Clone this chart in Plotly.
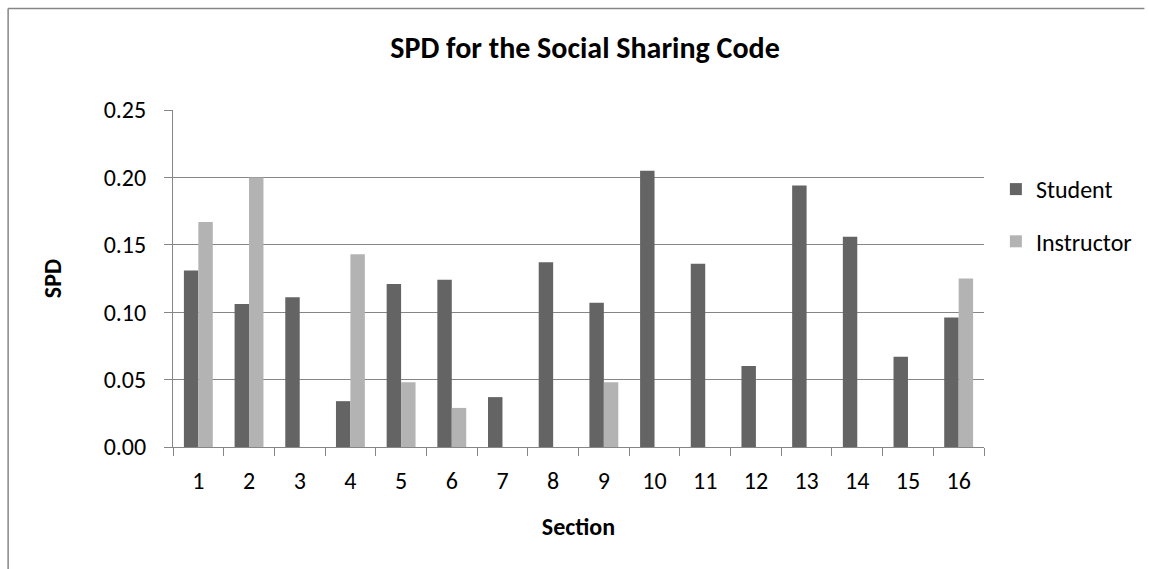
import plotly.graph_objects as go

sections = [str(i) for i in range(1, 17)]
student = [0.131, 0.106, 0.111, 0.034, 0.121, 0.124, 0.037, 0.137,
           0.107, 0.205, 0.136, 0.060, 0.194, 0.156, 0.067, 0.096]
instructor = [0.167, 0.200, None, 0.143, 0.048, 0.029, None, None,
              0.048, None, None, None, None, None, None, 0.125]

W, H = 1149, 569
L, R, T, B = 173, 992, 110, 447
FONT = "Carlito, Calibri, Lato, sans-serif"
GRID = "#868686"
FS = 24

def px(x):
    return (x - L) / (R - L)

def py(y):
    return (B - y) / (B - T)

fig = go.Figure()
fig.add_trace(go.Bar(x=sections, y=student, name="Student",
                     marker=dict(color="#646464", line=dict(width=0)),
                     legendgroup="s"))
fig.add_trace(go.Bar(x=sections, y=instructor, name="Instructor",
                     marker=dict(color="#b3b3b3", line=dict(width=0)),
                     legendgroup="i"))

border = dict(color=GRID, width=1.5)
fig.update_layout(
    width=W, height=H,
    margin=dict(l=L, r=W - R, t=T, b=H - B, pad=0),
    paper_bgcolor="white", plot_bgcolor="white",
    barmode="group", bargap=0.43, bargroupgap=0,
    font=dict(family=FONT, size=FS, color="black"),
    title=dict(text="<b>SPD for the Social Sharing Code</b>",
               font=dict(family=FONT, size=30, color="black"),
               x=px(590), xanchor="center", y=1 - 47 / H, yanchor="middle"),
    legend=dict(x=px(1004), xanchor="left", y=py(167), yanchor="top",
                font=dict(family=FONT, size=FS), tracegroupgap=18,
                itemwidth=30, bgcolor="rgba(0,0,0,0)"),
    xaxis=dict(type="category", range=[-0.5, 15.5],
               showline=True, linecolor=GRID, linewidth=1,
               ticks="outside", ticklen=8, tickcolor=GRID, tickwidth=1,
               tickson="boundaries", showgrid=False, ticklabelstandoff=12,
               tickfont=dict(family=FONT, size=FS),
               title=dict(text="<b>Section</b>", font=dict(family=FONT, size=FS),
                          standoff=24)),
    yaxis=dict(range=[0, 0.25], dtick=0.05, tickformat=".2f",
               showline=True, linecolor=GRID, linewidth=1,
               ticks="outside", ticklen=8, tickcolor=GRID, tickwidth=1,
               showgrid=True, gridcolor=GRID, gridwidth=1, zeroline=False,
               ticklabelstandoff=13,
               tickfont=dict(family=FONT, size=FS),
               title=dict(text="<b>SPD</b>", font=dict(family=FONT, size=FS),
                          standoff=35)),
    shapes=[
        dict(type="line", xref="paper", yref="paper",
             x0=px(6.5), x1=px(6.5), y0=py(8.5), y1=py(H + 5),
             line=border, layer="below"),
        dict(type="line", xref="paper", yref="paper",
             x0=px(6.5), x1=px(W + 5), y0=py(8.5), y1=py(8.5),
             line=border, layer="below"),
    ],
)

fig.write_html("out.html", config={"displayModeBar": False},
               post_script="document.body.style.margin='0';document.body.style.overflow='hidden';")
